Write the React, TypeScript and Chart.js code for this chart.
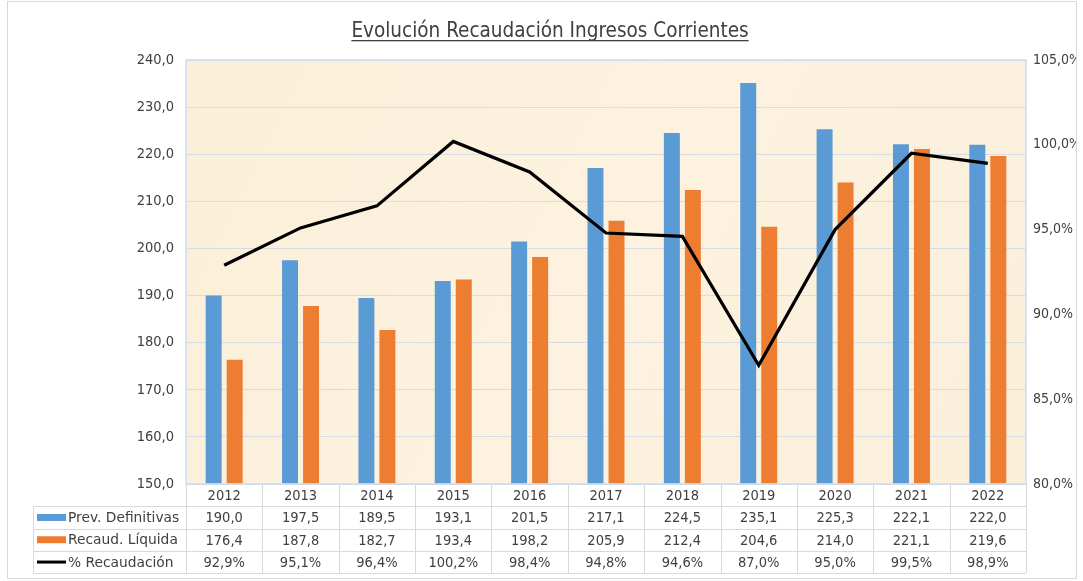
import React, { useEffect, useRef } from "react";
import { Chart, registerables } from "chart.js";

Chart.register(...registerables);

const years = ["2012", "2013", "2014", "2015", "2016", "2017", "2018", "2019", "2020", "2021", "2022"];
const prevDefinitivas = [190.0, 197.5, 189.5, 193.1, 201.5, 217.1, 224.5, 235.1, 225.3, 222.1, 222.0];
const recaudLiquida = [176.4, 187.8, 182.7, 193.4, 198.2, 205.9, 212.4, 204.6, 214.0, 221.1, 219.6];
const pctRecaudacion = [92.9, 95.1, 96.4, 100.2, 98.4, 94.8, 94.6, 87.0, 95.0, 99.5, 98.9];

const TITLE = "Evolución Recaudación Ingresos Corrientes";
const seriesNames = ["Prev. Definitivas", "Recaud. Líquida", "% Recaudación"];

const FONT = "'DejaVu Sans Condensed', 'DejaVu Sans', sans-serif";
const FONT_WIDE = "'DejaVu Sans', sans-serif";
const TEXT = "#404040";
const BLUE = "#5B9BD5";
const ORANGE = "#ED7D31";

const fmt = (v: number) => v.toFixed(1).replace(".", ",");

const decorPlugin = {
  id: "decor",
  beforeDraw(chart: any) {
    const { ctx, chartArea: a } = chart;
    ctx.save();
    const g = ctx.createLinearGradient(a.left, a.top, a.right, a.bottom);
    g.addColorStop(0, "#FBEFD8");
    g.addColorStop(0.5, "#FCF2DF");
    g.addColorStop(1, "#FBEFDA");
    ctx.fillStyle = g;
    ctx.fillRect(a.left, a.top, a.right - a.left, a.bottom - a.top);
    ctx.restore();
  },
  afterDraw(chart: any) {
    const { ctx, chartArea: a } = chart;
    const xs = chart.scales.x;
    ctx.save();
    // plot border
    ctx.strokeStyle = "#C9DCF0";
    ctx.lineWidth = 1.5;
    ctx.strokeRect(a.left, a.top, a.right - a.left, a.bottom - a.top);

    // title
    ctx.fillStyle = TEXT;
    ctx.font = `20.5px ${FONT}`;
    ctx.textAlign = "center";
    ctx.textBaseline = "alphabetic";
    const tx = 542;
    const ty = 35;
    ctx.fillText(TITLE, tx, ty);
    const tw = ctx.measureText(TITLE).width;
    ctx.fillRect(tx - tw / 2, ty + 3, tw, 1.3);

    // data table
    const n = years.length;
    const colW = (a.right - a.left) / n;
    const tableLeft = 25;
    const rowH = 22.3;
    const top = a.bottom;
    const rows = [top, top + rowH, top + 2 * rowH, top + 3 * rowH, top + 4 * rowH];
    ctx.strokeStyle = "#D9D9D9";
    ctx.lineWidth = 1;
    ctx.beginPath();
    for (let r = 1; r < rows.length; r++) {
      const y = Math.round(rows[r]) + 0.5;
      ctx.moveTo(tableLeft, y);
      ctx.lineTo(a.right, y);
    }
    ctx.moveTo(tableLeft + 0.5, Math.round(rows[1]));
    ctx.lineTo(tableLeft + 0.5, Math.round(rows[4]));
    for (let i = 0; i <= n; i++) {
      const x = Math.round(a.left + i * colW) + 0.5;
      ctx.moveTo(x, top);
      ctx.lineTo(x, Math.round(rows[4]));
    }
    ctx.stroke();

    ctx.font = `14.5px ${FONT}`;
    ctx.fillStyle = TEXT;
    ctx.textBaseline = "middle";
    ctx.textAlign = "center";
    const tables = [prevDefinitivas.map(fmt), recaudLiquida.map(fmt), pctRecaudacion.map((v) => fmt(v) + "%")];
    for (let i = 0; i < n; i++) {
      const cx = xs.getPixelForValue(i);
      ctx.fillText(years[i], cx, (rows[0] + rows[1]) / 2 + 1);
      for (let r = 0; r < 3; r++) {
        ctx.fillText(tables[r][i], cx, (rows[r + 1] + rows[r + 2]) / 2 + 1);
      }
    }
    // legend keys
    ctx.textAlign = "left";
    ctx.font = `13.8px ${FONT_WIDE}`;
    for (let r = 0; r < 3; r++) {
      const cy = (rows[r + 1] + rows[r + 2]) / 2;
      if (r < 2) {
        ctx.fillStyle = r === 0 ? BLUE : ORANGE;
        ctx.fillRect(tableLeft + 4, cy - 3.5, 29, 7);
      } else {
        ctx.strokeStyle = "#000";
        ctx.lineWidth = 3;
        ctx.beginPath();
        ctx.moveTo(tableLeft + 4, cy);
        ctx.lineTo(tableLeft + 33, cy);
        ctx.stroke();
      }
      ctx.fillStyle = TEXT;
      ctx.fillText(seriesNames[r], tableLeft + 35, cy + 1);
    }
    ctx.restore();
  },
};

export default function App() {
  const ref = useRef<HTMLCanvasElement | null>(null);
  useEffect(() => {
    if (!ref.current) return;
    const chart = new Chart(ref.current, {
      type: "bar",
      data: {
        labels: years,
        datasets: [
          {
            type: "line",
            label: seriesNames[2],
            data: pctRecaudacion,
            yAxisID: "y2",
            borderColor: "#000000",
            borderWidth: 3.2,
            pointRadius: 0,
            tension: 0,
            order: 0,
          } as any,
          {
            label: seriesNames[0],
            data: prevDefinitivas,
            backgroundColor: BLUE,
            yAxisID: "y",
            base: 150,
            categoryPercentage: 0.55,
            barPercentage: 0.76,
            order: 1,
          },
          {
            label: seriesNames[1],
            data: recaudLiquida,
            backgroundColor: ORANGE,
            yAxisID: "y",
            base: 150,
            categoryPercentage: 0.55,
            barPercentage: 0.76,
            order: 1,
          },
        ],
      },
      plugins: [decorPlugin],
      options: {
        responsive: false,
        animation: false,
        layout: { padding: { top: 58, bottom: 94, left: 0, right: 0 } },
        plugins: { legend: { display: false }, tooltip: { enabled: false }, title: { display: false } },
        scales: {
          x: { display: false },
          y: {
            position: "left",
            min: 150,
            max: 240,
            ticks: {
              stepSize: 10,
              color: TEXT,
              font: { family: FONT, size: 14.5 },
              padding: 12,
              callback: (v: any) => fmt(Number(v)),
            },
            grid: { color: "#D5DCE6", lineWidth: 1, drawTicks: false },
            border: { display: false },
            afterFit: (s: any) => {
              s.width = 178;
            },
          },
          y2: {
            position: "right",
            min: 80,
            max: 105,
            ticks: {
              stepSize: 5,
              color: TEXT,
              font: { family: FONT, size: 14 },
              padding: 7,
              callback: (v: any) => fmt(Number(v)) + "%",
            },
            grid: { display: false, drawTicks: false },
            border: { display: false },
            afterFit: (s: any) => {
              s.width = 50;
            },
          },
        },
      },
    });
    return () => chart.destroy();
  }, []);
  return (
    <div
      style={{
        position: "absolute",
        left: 7,
        top: 1,
        width: 1068,
        height: 576,
        border: "1px solid #D9D9D9",
        background: "#ffffff",
      }}
    >
      <canvas ref={ref} width={1068} height={576} style={{ width: 1068, height: 576, display: "block" }} />
    </div>
  );
}
